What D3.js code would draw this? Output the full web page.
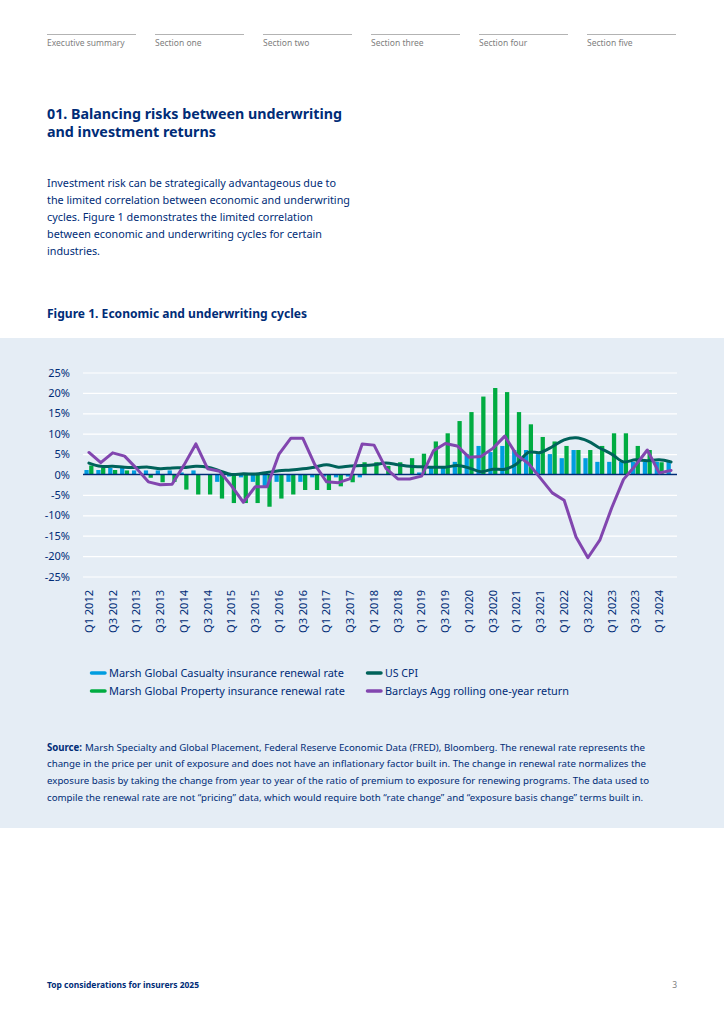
<!DOCTYPE html>
<html>
<head>
<meta charset="utf-8">
<script src="https://cdn.jsdelivr.net/npm/d3@7"></script>
<style>
  body { margin: 0; background: #ffffff; }
  svg text { font-family: "Noto Sans", sans-serif; }
</style>
</head>
<body>
<div id="page"></div>
<script>
// Chart data
const quarters = [
  "Q1 2012", "Q2 2012", "Q3 2012", "Q4 2012", "Q1 2013", "Q2 2013", "Q3 2013", "Q4 2013",
  "Q1 2014", "Q2 2014", "Q3 2014", "Q4 2014", "Q1 2015", "Q2 2015", "Q3 2015", "Q4 2015",
  "Q1 2016", "Q2 2016", "Q3 2016", "Q4 2016", "Q1 2017", "Q2 2017", "Q3 2017", "Q4 2017",
  "Q1 2018", "Q2 2018", "Q3 2018", "Q4 2018", "Q1 2019", "Q2 2019", "Q3 2019", "Q4 2019",
  "Q1 2020", "Q2 2020", "Q3 2020", "Q4 2020", "Q1 2021", "Q2 2021", "Q3 2021", "Q4 2021",
  "Q1 2022", "Q2 2022", "Q3 2022", "Q4 2022", "Q1 2023", "Q2 2023", "Q3 2023", "Q4 2023",
  "Q1 2024", "Q2 2024"
];
const xTickLabels = [
  "Q1 2012", "Q3 2012", "Q1 2013", "Q3 2013", "Q1 2014", "Q3 2014", "Q1 2015", "Q3 2015",
  "Q1 2016", "Q3 2016", "Q1 2017", "Q3 2017", "Q1 2018", "Q3 2018", "Q1 2019", "Q3 2019",
  "Q1 2020", "Q3 2020", "Q1 2021", "Q3 2021", "Q1 2022", "Q3 2022", "Q1 2023", "Q3 2023",
  "Q1 2024"
];
const casualty = [
  1.1, 1.1, 1.6, 1.6, 1.0, 1.0, 1.0, 1.0, 0.5, 1.0,
  0.0, -1.8, -0.5, -0.7, -1.8, -2.8, -1.8, -1.8, -1.8, -0.7,
  -0.5, -0.7, -0.5, -0.7, 0.0, 0.0, 0.0, 0.0, 0.5, 1.7,
  1.7, 3.1, 5.0, 7.0, 5.5, 7.0, 6.0, 6.0, 5.0, 5.0,
  4.0, 6.0, 4.0, 3.1, 3.1, 3.1, 3.1, 3.1, 3.1, 3.1
];
const property = [
  2.2, 1.6, 1.1, 1.0, 0.0, -0.8, -1.9, -1.8, -3.7, -4.9,
  -4.9, -5.9, -7.0, -7.0, -7.0, -7.9, -5.9, -4.9, -3.8, -3.8,
  -3.8, -2.9, -1.9, 3.0, 3.0, 2.1, 3.0, 4.0, 5.1, 8.1,
  10.1, 13.1, 15.3, 19.1, 21.2, 20.2, 15.3, 12.3, 9.2, 8.1,
  7.0, 6.0, 6.0, 7.0, 10.1, 10.1, 7.0, 6.0, 3.0, 0.0
];
const cpi = [
  2.8, 2.0, 2.0, 1.8, 1.7, 1.8, 1.4, 1.6, 1.7, 2.0,
  1.8, 0.9, 0.0, 0.2, 0.1, 0.5, 0.9, 1.1, 1.4, 1.8,
  2.4, 1.8, 2.1, 2.2, 2.4, 2.8, 2.4, 2.0, 1.9, 1.8,
  1.8, 2.2, 1.6, 0.7, 1.3, 1.3, 2.6, 5.4, 5.4, 6.8,
  8.5, 9.0, 8.2, 6.5, 5.0, 3.1, 3.6, 3.4, 3.6, 3.1
];
const barclays = [
  5.4, 2.9, 5.3, 4.5, 1.5, -1.8, -2.5, -2.4, 2.3, 7.5,
  1.4, 0.8, -2.8, -6.8, -3.0, -3.0, 5.0, 8.9, 8.9, 2.5,
  -1.8, -2.0, -1.0, 7.5, 7.2, 1.5, -1.1, -1.1, -0.4, 5.8,
  7.6, 7.0, 4.2, 4.4, 6.4, 9.4, 4.8, 2.7, -0.9, -4.5,
  -6.3, -15.3, -20.4, -16.1, -8.2, -1.2, 2.2, 6.0, 0.4, 1.0
];
const yTicks = [-25, -20, -15, -10, -5, 0, 5, 10, 15, 20, 25];

const seriesNames = [
  "Marsh Global Casualty insurance renewal rate",
  "Marsh Global Property insurance renewal rate",
  "US CPI",
  "Barclays Agg rolling one-year return"
];
const navItems = ["Executive summary", "Section one", "Section two", "Section three", "Section four", "Section five"];
const titleLines = ["01. Balancing risks between underwriting", "and investment returns"];
const introLines = [
  "Investment risk can be strategically advantageous due to",
  "the limited correlation between economic and underwriting",
  "cycles. Figure 1 demonstrates the limited correlation",
  "between economic and underwriting cycles for certain",
  "industries."
];
const sourceLines = [
  "Marsh Specialty and Global Placement, Federal Reserve Economic Data (FRED), Bloomberg. The renewal rate represents the",
  "change in the price per unit of exposure and does not have an inflationary factor built in. The change in renewal rate normalizes the",
  "exposure basis by taking the change from year to year of the ratio of premium to exposure for renewing programs. The data used to",
  "compile the renewal rate are not \u201cpricing\u201d data, which would require both \u201crate change\u201d and \u201cexposure basis change\u201d terms built in."
];

document.addEventListener("DOMContentLoaded", function () {
  const width = 724;
  const height = 1024;
  const navy = "#002c77";
  const colors = ["#009de0", "#00ac41", "#00625a", "#8246af"];

  const svg = d3
    .select("#page")
    .append("svg")
    .attr("width", width)
    .attr("height", height);

  // Top navigation
  const nav = svg
    .selectAll("g.nav")
    .data(navItems)
    .enter()
    .append("g")
    .attr("class", "nav")
    .attr("transform", (d, i) => `translate(${47 + i * 108},0)`);
  nav
    .append("line")
    .attr("x1", 0)
    .attr("x2", 89)
    .attr("y1", 34.5)
    .attr("y2", 34.5)
    .attr("stroke", "#b3b3b3")
    .attr("stroke-width", 1);
  nav
    .append("text")
    .attr("y", 46)
    .attr("font-size", 8.5)
    .attr("fill", "#808080")
    .text((d) => d);

  // Heading and intro text
  const titleWidths = [295, 169];
  svg
    .selectAll("text.title")
    .data(titleLines)
    .enter()
    .append("text")
    .attr("class", "title")
    .attr("x", 47)
    .attr("y", (d, i) => 118.5 + i * 18)
    .attr("font-size", 15)
    .attr("font-weight", 700)
    .attr("fill", navy)
    .attr("textLength", (d, i) => titleWidths[i])
    .attr("lengthAdjust", "spacingAndGlyphs")
    .text((d) => d);

  const introWidths = [289, 303, 266, 275, 53];
  svg
    .selectAll("text.intro")
    .data(introLines)
    .enter()
    .append("text")
    .attr("class", "intro")
    .attr("x", 47)
    .attr("y", (d, i) => 187 + i * 17)
    .attr("font-size", 11)
    .attr("fill", navy)
    .attr("textLength", (d, i) => introWidths[i])
    .attr("lengthAdjust", "spacingAndGlyphs")
    .text((d) => d);

  svg
    .append("text")
    .attr("x", 47)
    .attr("y", 317.5)
    .attr("font-size", 12.5)
    .attr("font-weight", 700)
    .attr("fill", navy)
    .attr("textLength", 260)
    .attr("lengthAdjust", "spacingAndGlyphs")
    .text("Figure 1. Economic and underwriting cycles");

  // Chart panel
  svg
    .append("rect")
    .attr("x", 0)
    .attr("y", 338)
    .attr("width", width)
    .attr("height", 490)
    .attr("fill", "#e5edf5");

  const x = d3
    .scaleBand()
    .domain(quarters)
    .range([83, 677])
    .paddingInner(0.24)
    .paddingOuter(0.12);
  const xSub = d3
    .scaleBand()
    .domain([0, 1])
    .range([0, x.bandwidth()])
    .paddingInner(0.1);
  const y = d3.scaleLinear().domain([-25, 25]).range([576.5, 372.5]);

  // Y axis with gridlines
  const yAxis = svg
    .append("g")
    .attr("transform", "translate(83,0)")
    .call(
      d3
        .axisLeft(y)
        .tickValues(yTicks)
        .tickSize(-594)
        .tickPadding(13)
        .tickFormat((d) => d + "%")
    );
  yAxis.select(".domain").remove();
  yAxis.selectAll("line").attr("stroke", "#ffffff").attr("stroke-width", 1.2);
  yAxis
    .selectAll("text")
    .attr("fill", navy)
    .attr("font-size", 11)
    .attr("font-family", "Noto Sans, sans-serif");

  // X axis labels, rotated
  const xAxis = svg
    .append("g")
    .attr("transform", "translate(0,584)")
    .call(d3.axisBottom(x).tickValues(xTickLabels).tickSize(0));
  xAxis.select(".domain").remove();
  xAxis
    .selectAll("text")
    .attr("transform", "rotate(-90)")
    .attr("text-anchor", "end")
    .attr("x", -6)
    .attr("y", 0)
    .attr("dy", "0.35em")
    .attr("fill", navy)
    .attr("font-size", 11)
    .attr("font-family", "Noto Sans, sans-serif");

  // Bars
  const barSeries = [casualty, property];
  barSeries.forEach((values, s) => {
    svg
      .append("g")
      .selectAll("rect")
      .data(values)
      .enter()
      .append("rect")
      .attr("x", (d, i) => x(quarters[i]) + xSub(s))
      .attr("width", xSub.bandwidth())
      .attr("y", (d) => y(Math.max(0, d)))
      .attr("height", (d) => Math.abs(y(d) - y(0)))
      .attr("fill", colors[s]);
  });

  // Zero line
  svg
    .append("line")
    .attr("x1", 83)
    .attr("x2", 677)
    .attr("y1", y(0))
    .attr("y2", y(0))
    .attr("stroke", navy)
    .attr("stroke-width", 1.5);

  // Lines
  const xc = (i) => x(quarters[i]) + x.bandwidth() / 2;
  const cpiLine = d3
    .line()
    .x((d, i) => xc(i))
    .y((d) => y(d))
    .curve(d3.curveCatmullRom.alpha(0.5));
  const aggLine = d3
    .line()
    .x((d, i) => xc(i))
    .y((d) => y(d));

  svg
    .append("path")
    .datum(cpi)
    .attr("d", cpiLine)
    .attr("fill", "none")
    .attr("stroke", colors[2])
    .attr("stroke-width", 3)
    .attr("stroke-linejoin", "round")
    .attr("stroke-linecap", "round");

  svg
    .append("path")
    .datum(barclays)
    .attr("d", aggLine)
    .attr("fill", "none")
    .attr("stroke", colors[3])
    .attr("stroke-width", 3)
    .attr("stroke-linejoin", "round")
    .attr("stroke-linecap", "round");

  // Legend
  const legendPos = [
    { x: 90, y: 673, w: 235 },
    { x: 90, y: 691, w: 236 },
    { x: 366, y: 673, w: 33 },
    { x: 366, y: 691, w: 184 }
  ];
  const legend = svg
    .selectAll("g.legend")
    .data(seriesNames)
    .enter()
    .append("g")
    .attr("class", "legend")
    .attr("transform", (d, i) => `translate(${legendPos[i].x},${legendPos[i].y})`);
  legend
    .append("line")
    .attr("x1", 1.5)
    .attr("x2", 15)
    .attr("y1", 0)
    .attr("y2", 0)
    .attr("stroke", (d, i) => colors[i])
    .attr("stroke-width", 3.5)
    .attr("stroke-linecap", "round");
  legend
    .append("text")
    .attr("x", 19)
    .attr("dy", "0.35em")
    .attr("font-size", 11)
    .attr("fill", navy)
    .attr("textLength", (d, i) => legendPos[i].w)
    .attr("lengthAdjust", "spacingAndGlyphs")
    .text((d) => d);

  // Source note
  svg
    .append("text")
    .attr("x", 47)
    .attr("y", 750.5)
    .attr("font-size", 9.8)
    .attr("font-weight", 700)
    .attr("fill", navy)
    .attr("textLength", 35)
    .attr("lengthAdjust", "spacingAndGlyphs")
    .text("Source:");
  const sourceX = [85, 47, 47, 47];
  const sourceW = [560, 599, 602, 596];
  svg
    .selectAll("text.source")
    .data(sourceLines)
    .enter()
    .append("text")
    .attr("class", "source")
    .attr("x", (d, i) => sourceX[i])
    .attr("y", (d, i) => 750.5 + i * 16.8)
    .attr("font-size", 9.8)
    .attr("fill", navy)
    .attr("textLength", (d, i) => sourceW[i])
    .attr("lengthAdjust", "spacingAndGlyphs")
    .text((d) => d);

  // Footer
  svg
    .append("text")
    .attr("x", 47)
    .attr("y", 988)
    .attr("font-size", 8)
    .attr("font-weight", 700)
    .attr("fill", navy)
    .attr("textLength", 152)
    .attr("lengthAdjust", "spacingAndGlyphs")
    .text("Top considerations for insurers 2025");
  svg
    .append("text")
    .attr("x", 677)
    .attr("y", 988)
    .attr("text-anchor", "end")
    .attr("font-size", 8.5)
    .attr("fill", "#808080")
    .text("3");
});
</script>
</body>
</html>
